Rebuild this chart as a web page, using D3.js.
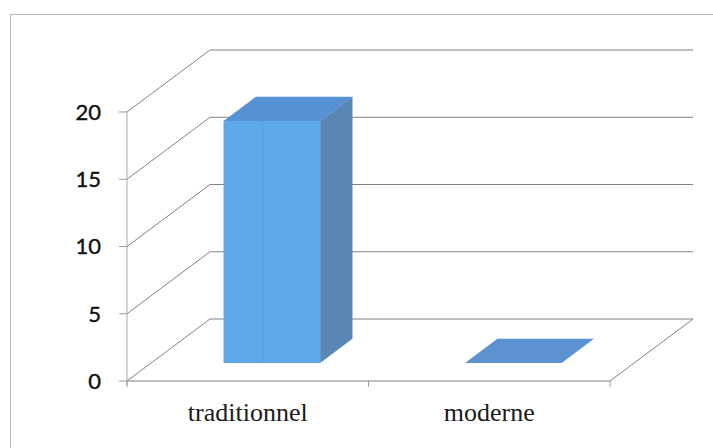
<!DOCTYPE html>
<html><head><meta charset="utf-8">
<script src="https://cdn.jsdelivr.net/npm/d3@7/dist/d3.min.js"></script>
<style>body{margin:0;background:#fff}svg{display:block}</style>
</head><body>
<script>
const categories = ["traditionnel", "moderne"];
const values = [18, 0];
const yTicks = [0, 5, 10, 15, 20];

const W = 713, H = 448;
const svg = d3.select("body").append("svg").attr("width", W).attr("height", H);

// outer frame
svg.append("rect").attr("x", 10.5).attr("y", 14.5).attr("width", 720).attr("height", 450)
  .attr("fill", "none").attr("stroke", "#b8b8b8").attr("stroke-width", 1);

const x0 = 127, x1 = 610;
const depth = {dx: 83, dy: -62};
const y = d3.scaleLinear().domain([0, 20]).range([381, 112]);
const x = d3.scaleBand().domain(categories).range([x0, x1]).paddingInner(0.6).paddingOuter(0.3);
const P = (px, py, d) => [px + depth.dx * d, py + depth.dy * d];
const grid = "#808080";

// gridlines (left wall diagonal + back wall horizontal)
yTicks.forEach(v => {
  const a = P(x0, y(v), 0), b = P(x0, y(v), 1), c = P(x1, y(v), 1);
  svg.append("polyline").attr("points", [a, b, c].map(p => p.join(",")).join(" "))
    .attr("fill", "none").attr("stroke", grid).attr("stroke-width", 1);
});
// floor front and right edge
svg.append("polyline")
  .attr("points", [[x0, y(0)], [x1, y(0)], P(x1, y(0), 1)].map(p => p.join(",")).join(" "))
  .attr("fill", "none").attr("stroke", grid).attr("stroke-width", 1);

// y axis
svg.append("line").attr("x1", x0).attr("x2", x0).attr("y1", y(20)).attr("y2", y(0) + 4)
  .attr("stroke", "#aaa");
yTicks.forEach(v => {
  svg.append("line").attr("x1", x0 - 8).attr("x2", x0).attr("y1", y(v)).attr("y2", y(v)).attr("stroke", "#999");
  svg.append("text").attr("x", 101).attr("y", y(v)).attr("dy", "0.36em")
    .attr("text-anchor", "end").attr("font-family", "Lato, 'Open Sans', sans-serif")
    .attr("font-size", 22).attr("fill", "#111").attr("stroke", "#111").attr("stroke-width", 0.4).text(v);
});
// category ticks
[x0, x0 + x.step(), x1].forEach(t => {
  svg.append("line").attr("x1", t).attr("x2", t).attr("y1", y(0)).attr("y2", y(0) + 6).attr("stroke", "#999");
});

// bars
const d0 = 0.29, d1 = 0.68;
const pts = a => a.map(p => p.join(",")).join(" ");
categories.forEach((c, i) => {
  const v = values[i];
  const bl = x(c), br = x(c) + x.bandwidth();
  const FL = P(bl, y(0), d0), FR = P(br, y(0), d0);
  const FTL = P(bl, y(v), d0), FTR = P(br, y(v), d0);
  const BTL = P(bl, y(v), d1), BTR = P(br, y(v), d1);
  const BR = P(br, y(0), d1);
  if (v > 0) {
    svg.append("polygon").attr("points", pts([FR, FTR, BTR, BR])).attr("fill", "#5a86b6");
    svg.append("polygon").attr("points", pts([FL, FR, FTR, FTL])).attr("fill", "#5da8e8");
    svg.append("line").attr("x1", FL[0] + 39).attr("x2", FL[0] + 39).attr("y1", FTL[1]).attr("y2", FL[1])
      .attr("stroke", "#559ddc").attr("stroke-width", 1);
  }
  svg.append("polygon").attr("points", pts([FTL, FTR, BTR, BTL])).attr("fill", v > 0 ? "#5591d3" : "#5b92d2");
  svg.append("text").attr("x", x(c) + x.bandwidth() / 2).attr("y", 421)
    .attr("text-anchor", "middle").attr("font-family", "'Liberation Serif', 'Times New Roman', serif")
    .attr("font-size", 26).attr("fill", "#1a1a1a").text(c);
});
</script>
</body></html>
